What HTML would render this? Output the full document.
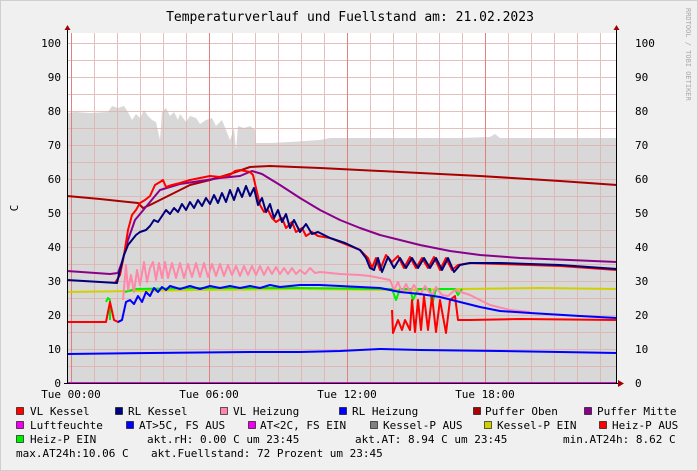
<!DOCTYPE html>
<html><head><style>
body{margin:0;background:#f0f0f0;}
svg{display:block;font-family:"DejaVu Sans Mono","Liberation Mono",monospace;}
</style></head><body>
<svg width="698" height="471" viewBox="0 0 698 471" xmlns="http://www.w3.org/2000/svg">
<rect x="0" y="0" width="698" height="471" fill="#f0f0f0"/>
<rect x="0.5" y="0.5" width="697" height="470" fill="none" stroke="#cfcfcf"/>
<rect x="67" y="33" width="550" height="350" fill="#ffffff"/>
<polygon fill="#d8d8d8" points="67,383 67,113 75,112 90,113 108,112 112,106 118,108 124,106 128,112 132,120 136,114 140,118 144,110 148,116 152,120 156,122 160,140 162,112 166,108 170,116 174,112 178,120 180,114 186,122 190,116 196,118 200,124 206,120 212,118 216,126 222,120 226,130 230,140 234,128 236,150 238,126 244,128 250,126 255,130 256,143 270,143 290,142 320,140 330,138 360,138 400,138 430,138 460,138 490,137 495,134 500,138 540,138 580,138 617,138 617,383"/>
<g stroke="#e0b0b0" stroke-width="1" opacity="0.8">
<path d="M67,366.5H617M67,349.5H617M67,332.5H617M67,315.5H617M67,298.5H617M67,281.5H617M67,264.5H617M67,247.5H617M67,230.5H617M67,213.5H617M67,196.5H617M67,179.5H617M67,162.5H617M67,145.5H617M67,128.5H617M67,111.5H617M67,94.5H617M67,77.5H617M67,60.5H617M67,43.5H617"/>
<path d="M94.5,33V383M117.5,33V383M140.5,33V383M163.5,33V383M186.5,33V383M232.5,33V383M255.5,33V383M278.5,33V383M301.5,33V383M324.5,33V383M370.5,33V383M393.5,33V383M416.5,33V383M439.5,33V383M462.5,33V383M508.5,33V383M531.5,33V383M554.5,33V383M577.5,33V383M600.5,33V383"/>
</g>
<g stroke="#e08080" stroke-width="1">
<path d="M71.5,33V383M209.5,33V383M347.5,33V383M485.5,33V383"/>
</g>
<g fill="none" stroke-width="2" stroke-linejoin="round">
<polyline stroke="#0000ff" points="67,354 150,353 250,352 300,352 340,351 380,349 420,350 500,351 560,352 617,353"/>
<polyline stroke="#d0d000" points="67,292 200,290 300,289 400,290 460,289 540,288 617,289"/>
<polyline stroke="#00ee00" points="106,302 108,298 110,300 110,320"/>
<polyline stroke="#00ee00" points="125,292 135,289 200,288 300,288 392,289 396,300 400,289 410,289 413,300 418,289 430,289 432,305 436,289 455,289 458,295 462,289"/>
<polyline stroke="#ff0000" points="67,322 106,322 110,302 114,320 118,322 122,320"/>
<polyline stroke="#ff0000" points="392,310 393,333 398,320 402,330 405,320 410,330 412,300 415,332 418,300 421,330 424,296 428,330 432,296 436,332 440,300 446,333 450,300 455,296 458,320 470,320 520,319 617,320"/>
<polyline stroke="#ff88aa" points="123,300 126,265 128,290 131,275 134,292 137,270 140,285 144,262 147,282 150,268 153,262 156,280 159,263 162,278 165,262 168,278 172,263 176,278 180,263 184,278 188,264 192,277 196,263 200,277 204,263 208,277 212,264 216,276 220,264 224,276 228,265 232,275 236,266 240,276 244,266 248,275 252,266 256,275 260,266 264,275 268,267 272,274 276,267 280,274 284,268 288,274 292,268 296,274 300,270 305,274 310,268 315,273 320,272 340,274 360,275 370,276 380,278 390,280 394,290 398,282 402,292 406,284 410,292 414,285 420,295 425,286 432,296 436,287 442,295 448,296 455,290 470,295 490,305 510,310 530,312"/>
<polyline stroke="#0000ff" points="118,322 122,320 126,302 130,300 134,304 138,296 142,302 146,292 150,296 154,288 158,292 162,287 166,290 170,286 180,289 190,286 200,289 210,286 220,288 230,286 240,288 250,286 260,288 270,285 280,287 290,286 300,285 320,285 340,286 360,287 380,288 400,292 420,294 440,297 460,302 480,307 500,311 530,313 580,316 617,318"/>
<polyline stroke="#aa0000" points="67,196 100,199 138,203 143,208 150,205 170,195 190,185 210,180 230,174 250,167 270,166 320,168 400,172 480,176 560,181 617,185"/>
<polyline stroke="#8b008b" points="67,271 110,274 118,273 122,262 128,240 135,220 145,208 160,190 180,184 200,181 220,178 240,176 252,171 262,174 280,185 300,198 320,210 340,220 360,228 380,235 400,240 420,245 450,251 480,255 520,258 570,260 617,262"/>
<polyline stroke="#ff0000" points="115,283 120,275 124,255 128,230 132,215 136,210 140,203 145,200 150,196 155,185 160,182 163,180 166,187 172,185 180,183 190,180 200,178 210,176 220,177 230,175 235,171 240,170 250,172 253,175 256,188 260,205 264,212 268,210 272,218 276,222 282,218 286,228 292,222 296,232 302,228 306,236 312,232 318,236 330,238 345,244 360,250 368,258 372,268 376,258 380,270 386,255 392,262 398,256 404,268 410,257 416,268 422,258 428,268 434,257 440,270 446,258 452,270 458,265 470,263 500,264 560,266 617,270"/>
<polyline stroke="#00007a" points="67,280 117,283 120,270 124,255 128,245 132,240 136,235 140,232 146,230 150,226 154,220 158,222 162,216 166,210 170,214 174,208 178,212 182,204 186,210 190,202 194,208 198,200 202,206 206,198 210,204 214,195 218,203 222,193 226,202 230,190 234,200 238,188 242,197 246,186 250,196 254,188 258,205 262,198 266,212 270,204 274,218 278,210 282,222 286,214 290,228 294,220 300,232 306,224 312,234 318,232 330,238 345,243 360,250 366,258 370,268 374,270 378,258 382,272 388,257 394,268 400,258 406,268 412,258 418,268 424,258 430,268 436,258 442,270 448,258 454,272 460,265 470,263 500,263 560,265 617,269"/>
<line x1="67" y1="383" x2="617" y2="383" stroke="#ee00ee" stroke-width="2"/>
</g>
<g stroke="#000" stroke-width="1">
<line x1="67.5" y1="30" x2="67.5" y2="383"/>
<line x1="616.5" y1="30" x2="616.5" y2="383"/>
<line x1="64" y1="383.5" x2="622" y2="383.5"/>
</g>
<polygon points="618,380 624,383.5 618,387" fill="#a00000"/>
<polygon points="64.5,30 67.5,25 70.5,30" fill="#a00000"/>
<polygon points="613.5,30 616.5,25 619.5,30" fill="#a00000"/>
<g font-size="11" fill="#000" text-anchor="end">
<text x="61" y="387">0</text><text x="61" y="353">10</text><text x="61" y="319">20</text><text x="61" y="285">30</text><text x="61" y="251">40</text><text x="61" y="217">50</text><text x="61" y="183">60</text><text x="61" y="149">70</text><text x="61" y="115">80</text><text x="61" y="81">90</text><text x="61" y="47">100</text>
</g>
<g font-size="11" fill="#000" text-anchor="start">
<text x="635" y="387">0</text><text x="635" y="353">10</text><text x="635" y="319">20</text><text x="635" y="285">30</text><text x="635" y="251">40</text><text x="635" y="217">50</text><text x="635" y="183">60</text><text x="635" y="149">70</text><text x="635" y="115">80</text><text x="635" y="81">90</text><text x="635" y="47">100</text>
</g>
<g font-size="11" fill="#000" text-anchor="middle">
<text x="71" y="398">Tue 00:00</text><text x="209" y="398">Tue 06:00</text><text x="347" y="398">Tue 12:00</text><text x="485" y="398">Tue 18:00</text>
</g>
<text x="18" y="208" font-size="11" transform="rotate(-90 18 208)" text-anchor="middle">C</text>
<text x="350" y="21" font-size="13" text-anchor="middle">Temperaturverlauf und Fuellstand am: 21.02.2023</text>
<text x="686" y="8" font-size="7" fill="#aaaaaa" transform="rotate(90 686 8)">RRDTOOL / TOBI OETIKER</text>
<g font-size="11" fill="#000" xml:space="preserve">
<g stroke="#000" stroke-width="0.6">
<rect x="16.5" y="407.5" width="7" height="7" fill="#ff0000"/>
<rect x="115.5" y="407.5" width="7" height="7" fill="#00007a"/>
<rect x="220.5" y="407.5" width="7" height="7" fill="#ff88aa"/>
<rect x="339.5" y="407.5" width="7" height="7" fill="#0000ff"/>
<rect x="473.5" y="407.5" width="7" height="7" fill="#aa0000"/>
<rect x="584.5" y="407.5" width="7" height="7" fill="#8b008b"/>
<rect x="16.5" y="421.5" width="7" height="7" fill="#ee00ee"/>
<rect x="126.5" y="421.5" width="7" height="7" fill="#0000ff"/>
<rect x="248.5" y="421.5" width="7" height="7" fill="#ee00ee"/>
<rect x="370.5" y="421.5" width="7" height="7" fill="#808080"/>
<rect x="484.5" y="421.5" width="7" height="7" fill="#d0d000"/>
<rect x="599.5" y="421.5" width="7" height="7" fill="#ff0000"/>
<rect x="16.5" y="435.5" width="7" height="7" fill="#00ee00"/>
</g>
<text x="30" y="415">VL Kessel</text>
<text x="128" y="415">RL Kessel</text>
<text x="233" y="415">VL Heizung</text>
<text x="352" y="415">RL Heizung</text>
<text x="485" y="415">Puffer Oben</text>
<text x="597" y="415">Puffer Mitte</text>
<text x="30" y="429">Luftfeuchte</text>
<text x="139" y="429">AT&gt;5C, FS AUS</text>
<text x="260" y="429">AT&lt;2C, FS EIN</text>
<text x="383" y="429">Kessel-P AUS</text>
<text x="497" y="429">Kessel-P EIN</text>
<text x="612" y="429">Heiz-P AUS</text>
<text x="30" y="443">Heiz-P EIN</text>
<text x="147" y="443">akt.rH: 0.00 C um 23:45</text>
<text x="355" y="443">akt.AT: 8.94 C um 23:45</text>
<text x="563" y="443">min.AT24h: 8.62 C</text>
<text x="16" y="457">max.AT24h:10.06 C</text>
<text x="151" y="457">akt.Fuellstand:   72 Prozent um 23:45</text>
</g>
</svg>
</body></html>
